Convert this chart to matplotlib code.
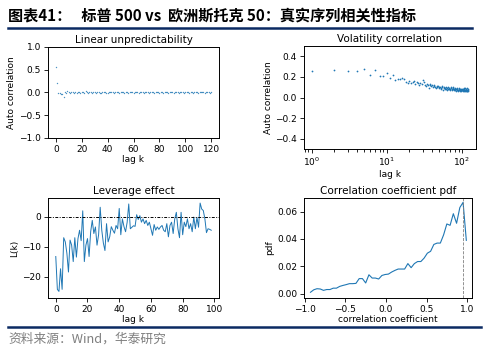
import matplotlib
matplotlib.use("Agg")
import matplotlib.pyplot as plt
from matplotlib.lines import Line2D

# ---------------- data ----------------
lin_lags = list(range(0, 121))
lin_acf = [0.55, 0.21, -0.02, -0.01, -0.03, -0.04, -0.09, 0.00, -0.02, 0.03,
           0.02, -0.01, 0.01, 0.00, -0.01, 0.00, -0.02, 0.01, 0.00, -0.01,
           0.00, 0.01, -0.01, 0.03, 0.00, -0.01, 0.02, 0.01, -0.01, 0.00,
           0.01, -0.02, 0.00, 0.01, -0.01, -0.02, 0.01, 0.00, 0.02, -0.01,
           -0.02, 0.01, 0.00, 0.02, 0.01, -0.01, 0.00, 0.02, 0.01, -0.01,
           0.00, 0.01, 0.02, -0.01, 0.00, 0.01, -0.02, 0.00, 0.02, 0.01,
           -0.01, 0.00, 0.01, 0.00, -0.01, 0.01, 0.00, 0.02, -0.01, 0.00,
           0.01, 0.00, -0.01, 0.01, 0.00, 0.01, -0.01, 0.00, 0.01, 0.00,
           -0.01, 0.01, 0.00, -0.01, 0.00, 0.01, 0.00, -0.02, 0.01, 0.00,
           0.01, -0.01, 0.00, 0.01, 0.00, -0.01, 0.02, 0.01, 0.00, -0.01,
           0.00, 0.01, 0.00, -0.01, 0.01, 0.00, -0.01, 0.00, 0.01, 0.00,
           -0.01, 0.01, 0.00, 0.02, 0.00, -0.02, 0.01, 0.00, 0.01, -0.01,
           0.00]

vol_lags = list(range(1, 122))
vol_acf = [0.26, 0.267, 0.257, 0.257, 0.277, 0.22, 0.27, 0.21, 0.21, 0.24,
           0.187, 0.22, 0.167, 0.177, 0.183, 0.187, 0.183, 0.15, 0.143, 0.16,
           0.14, 0.15, 0.16, 0.13, 0.15, 0.14, 0.12, 0.14, 0.13, 0.17,
           0.15, 0.12, 0.11, 0.13, 0.12, 0.09, 0.13, 0.12, 0.11, 0.12,
           0.10, 0.11, 0.12, 0.10, 0.09, 0.11, 0.10, 0.11, 0.09, 0.10,
           0.10, 0.08, 0.09, 0.11, 0.10, 0.07, 0.09, 0.10, 0.08, 0.09,
           0.10, 0.08, 0.07, 0.09, 0.08, 0.10, 0.08, 0.09, 0.07, 0.08,
           0.09, 0.10, 0.07, 0.08, 0.09, 0.08, 0.10, 0.07, 0.08, 0.09,
           0.07, 0.08, 0.06, 0.08, 0.09, 0.07, 0.08, 0.07, 0.06, 0.08,
           0.07, 0.09, 0.07, 0.06, 0.08, 0.07, 0.08, 0.06, 0.07, 0.08,
           0.07, 0.06, 0.08, 0.07, 0.09, 0.06, 0.07, 0.08, 0.06, 0.07,
           0.09, 0.06, 0.07, 0.08, 0.06, 0.07, 0.09, 0.06, 0.07, 0.08,
           0.06]

lev_lags = list(range(0, 99))
lev_vals = [-13.3, -24.3, -25.0, -17.4, -24.3, -7.0, -8.4, -12.2, -18.5, -7.8,
            -9.5, -15.0, -7.0, -13.5, -7.3, -4.5, -8.0, 2.0, -15.0, -9.5,
            -7.3, -13.3, -5.0, -1.2, -5.6, -3.4, -9.5, -6.0, 3.2, -4.5,
            -8.8, -11.3, -2.3, -8.4, -6.7, -3.3, -4.5, -5.5, -2.9, -4.0,
            2.8, -6.0, -0.7, -3.3, -5.0, -1.8, 4.3, -4.0, -3.5, -3.0,
            -3.2, 0.7, -0.9, 0.4, -1.8, -0.7, -2.3, -1.2, -2.9, -1.8,
            -4.0, -6.2, -2.6, -4.5, -3.4, -4.2, -3.4, -2.9, -4.5, -5.0,
            -2.3, -6.7, -2.9, -1.8, -5.6, -0.7, 1.5, -4.0, -7.0, 1.5,
            -6.0, -1.8, -3.3, -0.7, -4.0, -2.3, -5.0, -0.1, -4.0, -0.2,
            -3.5, 4.6, 2.6, 2.1, -0.7, -5.3, -4.0, -4.2, -4.5]

corr_x = [-0.93, -0.89, -0.85, -0.81, -0.77, -0.73, -0.69, -0.65, -0.61, -0.57,
          -0.53, -0.49, -0.45, -0.41, -0.37, -0.33, -0.29, -0.25, -0.21, -0.17,
          -0.13, -0.09, -0.05, -0.01, 0.03, 0.07, 0.11, 0.15, 0.19, 0.23,
          0.27, 0.31, 0.35, 0.39, 0.43, 0.47, 0.51, 0.55, 0.59, 0.63,
          0.67, 0.71, 0.75, 0.79, 0.83, 0.87, 0.91, 0.95, 0.99]
corr_pdf = [0.001, 0.0028, 0.0036, 0.0034, 0.0024, 0.003, 0.003, 0.004, 0.004, 0.0053,
            0.006, 0.0066, 0.0073, 0.0073, 0.0075, 0.011, 0.011, 0.0078, 0.0138, 0.0114,
            0.0114, 0.0107, 0.0133, 0.014, 0.0143, 0.0158, 0.017, 0.018, 0.018, 0.018,
            0.022, 0.019, 0.022, 0.0235, 0.0235, 0.026, 0.0296, 0.031, 0.036, 0.037,
            0.037, 0.043, 0.051, 0.050, 0.0585, 0.0515, 0.063, 0.0668, 0.039]
corr_mark = 0.955

title_text = "图表41：   标普 500 vs  欧洲斯托克 50：真实序列相关性指标"
source_text = "资料来源：Wind，华泰研究"

# ---------------- figure ----------------
W, H = 495, 351
fig = plt.figure(figsize=(W / 100, H / 100), dpi=100)
plt.rcParams['font.family'] = ['DejaVu Sans']

def ax_px(l, t, r, b):
    return fig.add_axes([l / W, 1 - b / H, (r - l) / W, (b - t) / H])

blue = '#1f77b4'
tfs = 7.5
lfs = 6.5
kfs = 6.5

def style(ax):
    ax.tick_params(labelsize=kfs, length=3, width=0.6, pad=2)
    for s in ax.spines.values():
        s.set_linewidth(0.7)

# Linear unpredictability
ax1 = ax_px(48, 47, 219, 138)
ax1.scatter(lin_lags, lin_acf, s=1.0, color=blue, linewidths=0, alpha=0.8)
ax1.set_ylim(-1, 1)
ax1.set_xlim(-6, 126)
ax1.set_yticks([-1.0, -0.5, 0.0, 0.5, 1.0])
ax1.set_xticks([0, 20, 40, 60, 80, 100, 120])
ax1.set_title("Linear unpredictability", fontsize=tfs, pad=3)
ax1.set_xlabel("lag k", fontsize=lfs, labelpad=1)
ax1.set_ylabel("Auto correlation", fontsize=lfs, labelpad=2)
style(ax1)

# Volatility correlation
ax2 = ax_px(304, 46, 476, 149)
ax2.scatter(vol_lags, vol_acf, s=1.6, color=blue, linewidths=0)
ax2.set_xscale('log')
ax2.set_ylim(-0.5, 0.5)
ax2.set_yticks([-0.4, -0.2, 0.0, 0.2, 0.4])
ax2.set_title("Volatility correlation", fontsize=tfs, pad=3)
ax2.set_xlabel("lag k", fontsize=lfs, labelpad=1)
ax2.set_ylabel("Auto correlation", fontsize=lfs, labelpad=2)
style(ax2)

# Leverage effect
ax3 = ax_px(48, 198, 219, 298)
ax3.plot(lev_lags, lev_vals, color=blue, lw=0.7)
ax3.axhline(0, color='black', lw=0.7, ls=(0, (3, 1.5, 1, 1.5)))
ax3.set_ylim(-27.2, 6.3)
ax3.set_yticks([-20, -10, 0])
ax3.set_xticks([0, 20, 40, 60, 80, 100])
ax3.set_title("Leverage effect", fontsize=tfs, pad=3)
ax3.set_xlabel("lag k", fontsize=lfs, labelpad=1)
ax3.set_ylabel("L(k)", fontsize=lfs, labelpad=2)
style(ax3)

# Correlation coefficient pdf
ax4 = ax_px(304, 198, 472, 298)
ax4.plot(corr_x, corr_pdf, color=blue, lw=0.8)
ax4.axvline(corr_mark, color='gray', lw=0.6, ls='--')
ax4.set_xlim(-1.01, 1.06)
ax4.set_ylim(-0.0032, 0.070)
ax4.set_yticks([0.0, 0.02, 0.04, 0.06])
ax4.set_xticks([-1.0, -0.5, 0.0, 0.5, 1.0])
ax4.set_title("Correlation coefficient pdf", fontsize=tfs, pad=3)
ax4.set_xlabel("correlation coefficient", fontsize=lfs, labelpad=1)
ax4.set_ylabel("pdf", fontsize=lfs, labelpad=2)
style(ax4)

# header / footer
navy = '#0b2a63'
fig.text(8 / W, 1 - 16 / H, title_text, fontsize=10.9, fontweight='bold',
         family=['Noto Sans CJK SC', 'DejaVu Sans'], va='center', ha='left', color='black')
fig.add_artist(Line2D([8 / W, 472 / W], [1 - 28 / H, 1 - 28 / H], color=navy, lw=1.8))
fig.add_artist(Line2D([8 / W, 481 / W], [1 - 327 / H, 1 - 327 / H], color=navy, lw=1.8))
fig.text(8 / W, 1 - 339 / H, source_text, fontsize=9.2,
         family=['Noto Sans CJK SC', 'DejaVu Sans'], va='center', ha='left', color='#7f7f7f')

fig.savefig("out.png", dpi=100)
